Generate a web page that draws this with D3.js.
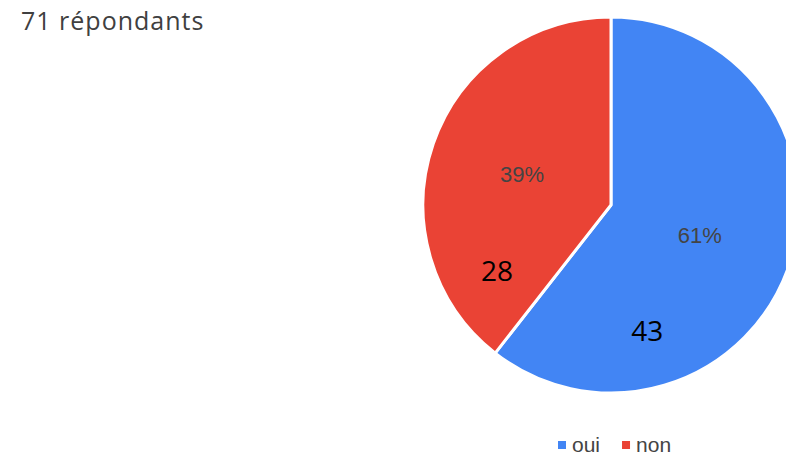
<!DOCTYPE html>
<html><head><meta charset="utf-8">
<script src="https://cdn.jsdelivr.net/npm/d3@7"></script>
<style>body{margin:0;background:#fff;overflow:hidden}</style>
</head><body>
<script>
const title = "71 répondants";
const categories = ["oui", "non"];
const values = [43, 28];
const colors = ["#4285F4", "#EA4335"];
const countLabelAngles = [164, 240]; // degrees, clockwise from top

const W = 786, H = 457;
const cx = 611, cy = 205, R = 188;

const svg = d3.select("body").append("svg").attr("width", W).attr("height", H);

svg.append("text").attr("x", 21).attr("y", 30)
  .attr("font-family", "'Open Sans', sans-serif").attr("font-size", 25)
  .attr("letter-spacing", 1)
  .attr("fill", "#404040").text(title);

const data = categories.map((c, i) => ({cat: c, value: values[i], color: colors[i], la: countLabelAngles[i]}));
const pie = d3.pie().value(d => d.value).sort(null);
const arcs = pie(data);
const arc = d3.arc().innerRadius(0).outerRadius(R);
const labelArc = d3.arc().innerRadius(R * 0.5).outerRadius(R * 0.5);
const total = d3.sum(values);

const g = svg.append("g").attr("transform", `translate(${cx},${cy})`);
g.selectAll("path").data(arcs).join("path")
  .attr("d", arc).attr("fill", d => d.data.color)
  .attr("stroke", "#fff").attr("stroke-width", 3).attr("stroke-linejoin", "round");

g.selectAll("text.pct").data(arcs).join("text").attr("class", "pct")
  .attr("transform", d => { const [x, y] = labelArc.centroid(d); return `translate(${x},${y})`; })
  .attr("text-anchor", "middle").attr("dy", "0.35em")
  .attr("font-family", "'Liberation Sans', Arial, sans-serif").attr("font-size", 22)
  .attr("fill", "#444").text(d => Math.round(d.data.value / total * 100) + "%");

const rr = 0.7 * R;
g.selectAll("text.cnt").data(arcs).join("text").attr("class", "cnt")
  .attr("x", d => rr * Math.sin(d.data.la * Math.PI / 180))
  .attr("y", d => -rr * Math.cos(d.data.la * Math.PI / 180))
  .attr("text-anchor", "middle").attr("dy", "0.35em")
  .attr("font-family", "'Open Sans', sans-serif").attr("font-size", 28)
  .attr("fill", "#000").text(d => d.data.value);

// legend
const leg = svg.append("g").attr("transform", "translate(558,452)");
let xo = 0;
data.forEach((d, i) => {
  const it = leg.append("g").attr("transform", `translate(${xo},0)`);
  it.append("rect").attr("x", 0).attr("y", -11).attr("width", 8).attr("height", 8).attr("fill", d.color);
  const t = it.append("text").attr("x", 14).attr("y", 0)
    .attr("font-family", "'Liberation Sans', Arial, sans-serif").attr("font-size", 21)
    .attr("fill", "#444").text(d.cat);
  xo += 14 + t.node().getComputedTextLength() + 22;
});
</script>
</body></html>
